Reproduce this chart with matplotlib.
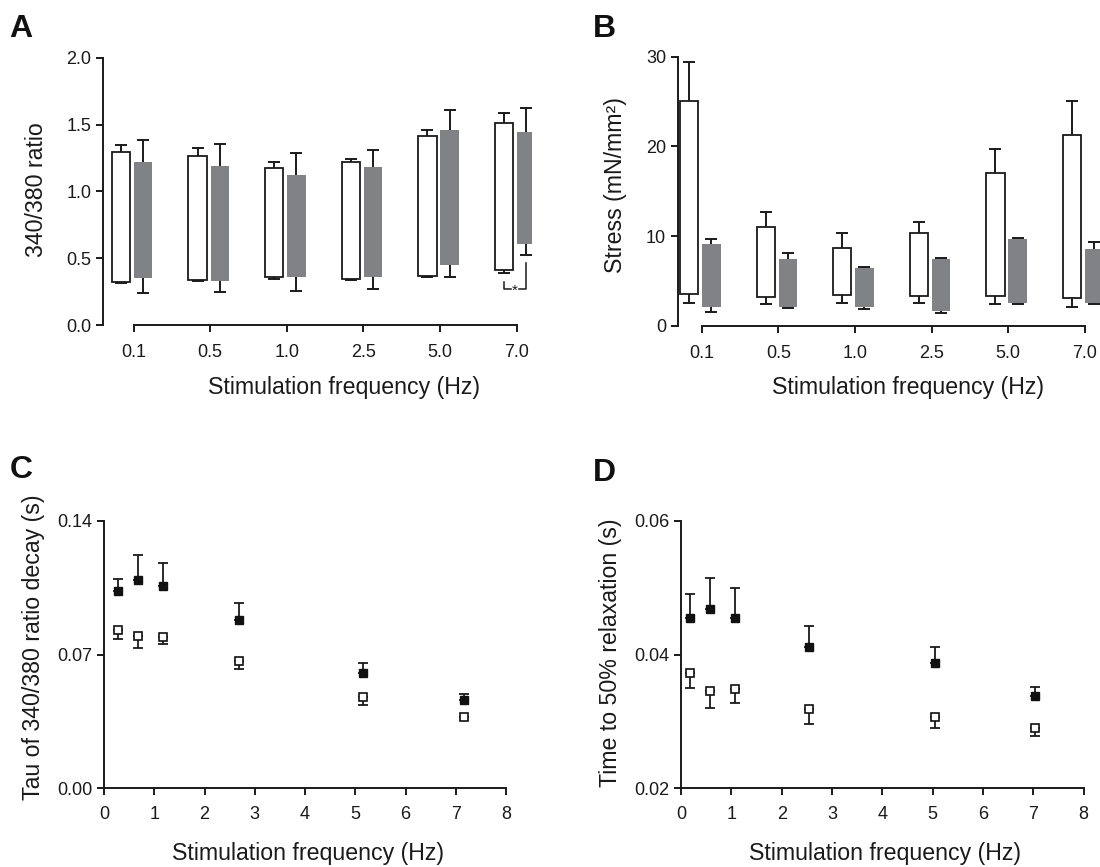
import matplotlib
matplotlib.use("Agg")
import matplotlib.pyplot as plt
import numpy as np

plt.rcParams["font.family"] = ["Liberation Sans", "DejaVu Sans"]

# ── data ──
freq_labels = ["0.1", "0.5", "1.0", "2.5", "5.0", "7.0"]

# A: 340/380 ratio, floating bars (diastolic -> systolic), +/- SEM
ratio_wt_top = [1.294, 1.267, 1.177, 1.222, 1.416, 1.511]
ratio_wt_top_sem = [0.053, 0.055, 0.040, 0.022, 0.043, 0.078]
ratio_wt_bot = [0.319, 0.337, 0.359, 0.344, 0.369, 0.414]
ratio_wt_bot_sem = [0.004, 0.007, 0.012, 0.007, 0.012, 0.027]
ratio_ko_top = [1.217, 1.190, 1.122, 1.180, 1.459, 1.444]
ratio_ko_top_sem = [0.167, 0.164, 0.165, 0.132, 0.152, 0.177]
ratio_ko_bot = [0.349, 0.332, 0.357, 0.357, 0.449, 0.606]
ratio_ko_bot_sem = [0.107, 0.083, 0.100, 0.090, 0.092, 0.082]

# B: stress (mN/mm2)
stress_wt_top = [25.06, 10.97, 8.70, 10.33, 16.99, 21.30]
stress_wt_top_sem = [4.31, 1.67, 1.67, 1.27, 2.75, 3.79]
stress_wt_bot = [3.49, 3.23, 3.46, 3.35, 3.35, 3.12]
stress_wt_bot_sem = [0.92, 0.85, 0.89, 0.78, 0.93, 1.00]
stress_ko_top = [9.07, 7.40, 6.39, 7.43, 9.63, 8.55]
stress_ko_top_sem = [0.60, 0.74, 0.19, 0.12, 0.18, 0.78]
stress_ko_bot = [2.04, 2.12, 2.12, 1.60, 2.57, 2.53]
stress_ko_bot_sem = [0.55, 0.12, 0.22, 0.22, 0.19, 0.15]

# C: tau of ratio decay (s)
tau_freq = [0.28, 0.68, 1.17, 2.68, 5.16, 7.16]
tau_ko = [0.1034, 0.1090, 0.1060, 0.0880, 0.0605, 0.0464]
tau_ko_sem = [0.0063, 0.0132, 0.0120, 0.0091, 0.0049, 0.0028]
tau_wt = [0.0826, 0.0798, 0.0790, 0.0666, 0.0476, 0.0375]
tau_wt_sem = [0.0045, 0.0064, 0.0035, 0.0040, 0.0038, 0.0]

# D: time to 50% relaxation (s)
relax_freq = [0.18, 0.58, 1.07, 2.55, 5.05, 7.03]
relax_ko = [0.0454, 0.0468, 0.0454, 0.0411, 0.0388, 0.0338]
relax_ko_sem = [0.0037, 0.0046, 0.0046, 0.0032, 0.0023, 0.0013]
relax_wt = [0.0372, 0.0346, 0.0349, 0.0318, 0.0306, 0.0290]
relax_wt_sem = [0.0022, 0.0026, 0.0021, 0.0022, 0.0016, 0.0012]

GREY = "#818285"
INK = "#1a1a1a"
LW = 1.3
TICK_FS = 13
LABEL_FS = 16.7

W, H = 1100, 867
fig = plt.figure(figsize=(11, 8.67), dpi=100)


def add_ax(left, right, top, bottom):
    return fig.add_axes([left / W, 1 - bottom / H, (right - left) / W, (bottom - top) / H])


def style(ax, xpad):
    for s in ["top", "right"]:
        ax.spines[s].set_visible(False)
    for s in ["left", "bottom"]:
        ax.spines[s].set_linewidth(1.4)
        ax.spines[s].set_color(INK)
    ax.tick_params(axis="both", direction="out", length=5, width=1.4,
                   labelsize=TICK_FS, color=INK, labelcolor=INK)
    ax.tick_params(axis="x", pad=xpad)
    ax.tick_params(axis="y", pad=3.5)


def place_labels(ax, xl, yl):
    ax.xaxis.set_label_coords(*xl)
    ax.yaxis.set_label_coords(*yl)
    ax.xaxis.label.set_va("center")
    ax.yaxis.label.set_va("center")
    ax.xaxis.label.set_color(INK)
    ax.yaxis.label.set_color(INK)


def floating_bars(ax, top, top_sem, bot, bot_sem, offset, face, edge):
    x = np.arange(len(top)) + offset
    top = np.array(top); bot = np.array(bot)
    mid = (top + bot) / 2
    lo = mid - (bot - np.array(bot_sem))
    hi = (top + np.array(top_sem)) - mid
    ax.errorbar(x, mid, yerr=[lo, hi], fmt="none", ecolor=INK,
                elinewidth=1.4, capsize=4.5, capthick=1.4, zorder=1)
    ax.bar(x, top - bot, bottom=bot, width=0.24, color=face,
           edgecolor=edge, linewidth=LW if edge != "none" else 0, zorder=2)


def bar_panel(ax, wt, ko, ylim, yticks, yticklabels, ylabel):
    floating_bars(ax, *wt, offset=-0.165, face="white", edge=INK)
    floating_bars(ax, *ko, offset=0.125, face=GREY, edge="none")
    ax.set_xlim(-0.4, 5.2)
    ax.set_ylim(*ylim)
    ax.set_xticks(np.arange(len(freq_labels)))
    ax.set_xticklabels(freq_labels)
    ax.set_yticks(yticks)
    ax.set_yticklabels(yticklabels)
    ax.spines["bottom"].set_bounds(0, len(freq_labels) - 1)
    ax.set_ylabel(ylabel, fontsize=LABEL_FS)
    ax.set_xlabel("Stimulation frequency (Hz)", fontsize=LABEL_FS)
    style(ax, 9)


def scatter_panel(ax, x, ko, ko_sem, wt, wt_sem, ylim, yticks, yticklabels, ylabel):
    zeros = np.zeros(len(x))
    ax.errorbar(x, ko, yerr=[zeros, ko_sem], fmt="none", ecolor=INK,
                elinewidth=1.3, capsize=3.5, capthick=1.3, zorder=1)
    ax.errorbar(x, wt, yerr=[wt_sem, zeros], fmt="none", ecolor=INK,
                elinewidth=1.3, capsize=3.5, capthick=1.3, zorder=1)
    ax.plot(x, ko, "s", ms=6.4, mfc="#111111", mec="#111111", mew=1, zorder=3, clip_on=False)
    ax.plot(x, wt, "s", ms=6.4, mfc="white", mec="#111111", mew=1.2, zorder=3, clip_on=False)
    ax.set_xlim(0, 8)
    ax.set_ylim(*ylim)
    ax.set_xticks(range(9))
    ax.set_yticks(yticks)
    ax.set_yticklabels(yticklabels)
    ax.set_ylabel(ylabel, fontsize=LABEL_FS)
    ax.set_xlabel("Stimulation frequency (Hz)", fontsize=LABEL_FS)
    style(ax, 8)


# ── A ──
axA = add_ax(103, 532, 57.7, 325)
bar_panel(axA,
          (ratio_wt_top, ratio_wt_top_sem, ratio_wt_bot, ratio_wt_bot_sem),
          (ratio_ko_top, ratio_ko_top_sem, ratio_ko_bot, ratio_ko_bot_sem),
          (0, 2.0), [0, 0.5, 1.0, 1.5, 2.0], ["0.0", "0.5", "1.0", "1.5", "2.0"],
          "340/380 ratio")
axA.spines["left"].set_bounds(0, 2.0)
place_labels(axA, (0.562, -0.232), (-0.154, 0.505))
# significance bracket at 7.0 Hz (diastolic)
xl, xr = 5 - 0.165, 5 + 0.125
yb = 0.27
axA.plot([xl, xl, xl + 0.09], [0.325, yb, yb], color=INK, lw=1.1)
axA.plot([xr - 0.09, xr, xr], [yb, yb, 0.466], color=INK, lw=1.1)
axA.text((xl + xr) / 2, yb - 0.012, "*", ha="center", va="center", fontsize=11, color=INK)

# ── B ──
axB = add_ax(678, 1100, 56.7, 325.7)
bar_panel(axB,
          (stress_wt_top, stress_wt_top_sem, stress_wt_bot, stress_wt_bot_sem),
          (stress_ko_top, stress_ko_top_sem, stress_ko_bot, stress_ko_bot_sem),
          (0, 30), [0, 10, 20, 30], ["0", "10", "20", "30"],
          "Stress (mN/mm²)")
axB.set_xlim(-0.31, 5.2)
place_labels(axB, (0.545, -0.228), (-0.149, 0.523))

# ── C ──
axC = add_ax(104, 506, 520.7, 788.3)
scatter_panel(axC, tau_freq, tau_ko, tau_ko_sem, tau_wt, tau_wt_sem,
              (0, 0.14), [0, 0.07, 0.14], ["0.00", "0.07", "0.14"],
              "Tau of 340/380 ratio decay (s)")
place_labels(axC, (0.507, -0.242), (-0.175, 0.526))

# ── D ──
axD = add_ax(681, 1083.5, 520.7, 788.3)
scatter_panel(axD, relax_freq, relax_ko, relax_ko_sem, relax_wt, relax_wt_sem,
              (0.02, 0.06), [0.02, 0.04, 0.06], ["0.02", "0.04", "0.06"],
              "Time to 50% relaxation (s)")
place_labels(axD, (0.507, -0.242), (-0.176, 0.506))

# panel letters
for letter, px, py in [("A", 9, 37), ("B", 593, 37), ("C", 10, 478), ("D", 593, 481)]:
    fig.text(px / W, 1 - py / H, letter, fontsize=23, fontweight="bold",
             ha="left", va="baseline", color="#111111")

fig.savefig("out.png", dpi=100)
